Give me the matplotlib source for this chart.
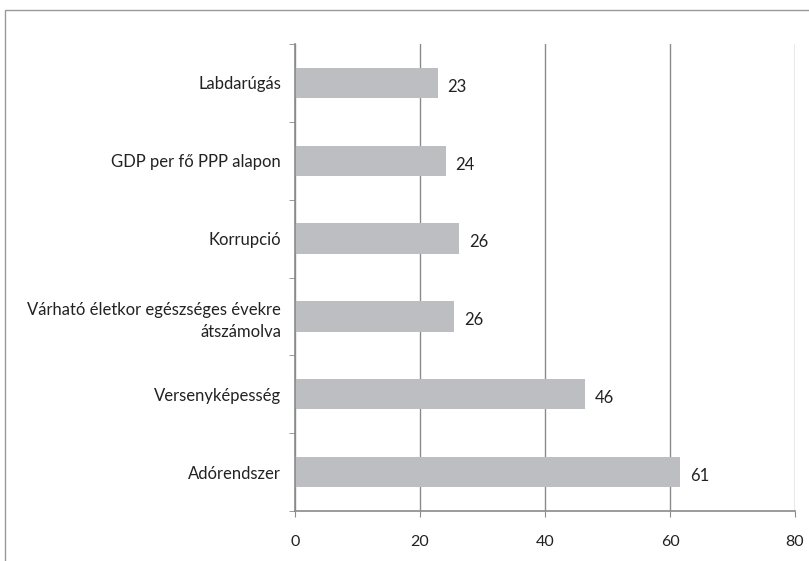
import numpy as np
import matplotlib.pyplot as plt
from matplotlib.patches import Rectangle

plt.rcParams['font.family'] = ['Lato', 'DejaVu Sans']

categories = ["Adórendszer", "Versenyképesség",
              "Várható életkor egészséges évekre\nátszámolva",
              "Korrupció", "GDP per fő PPP alapon", "Labdarúgás"]
values = [61.6, 46.4, 25.5, 26.2, 24.1, 22.8]
value_labels = ["61", "46", "26", "26", "24", "23"]
xticks = [0, 20, 40, 60, 80]

fig = plt.figure(figsize=(8.09, 5.61), dpi=100)
ax = fig.add_axes([295 / 809, 1 - 511 / 561, 500 / 809, 467 / 561])

y = np.arange(len(categories))
ax.barh(y, values, height=0.39, color="#bdbec2", zorder=2)
for yi, v, lab in zip(y, values, value_labels):
    ax.text(v + 1.6, yi - 0.05, lab, va="center", ha="left", fontsize=12, color="#222222")

ax.set_xlim(0, 80)
ax.set_ylim(-0.5, len(categories) - 0.5)
ax.set_xticks(xticks)
ax.set_xticklabels([str(t) for t in xticks], fontsize=11.5, color="#222222")
ax.set_yticks(y)
ax.set_yticklabels(categories, fontsize=12, color="#222222", ha="right",
                   multialignment="right", linespacing=1.45)
ax.set_yticks(np.arange(-0.5, len(categories), 1), minor=True)

ax.xaxis.grid(True, color="#8a8a8a", linewidth=1, zorder=0)
ax.set_axisbelow(True)
for s in ["top", "right"]:
    ax.spines[s].set_visible(False)
for s in ["left", "bottom"]:
    ax.spines[s].set_color("#8a8a8a")
    ax.spines[s].set_linewidth(1.2)

ax.tick_params(axis="y", which="major", length=0, pad=10)
ax.tick_params(axis="y", which="minor", length=4, color="#8a8a8a", direction="out")
ax.tick_params(axis="x", length=4, color="#8a8a8a", pad=13)

fig.patches.append(Rectangle((5 / 809, -0.1), 1.2, 1 - 10 / 561 + 0.1, transform=fig.transFigure,
                             fill=False, edgecolor="#999999", linewidth=1))

fig.savefig("out.png", dpi=100)
